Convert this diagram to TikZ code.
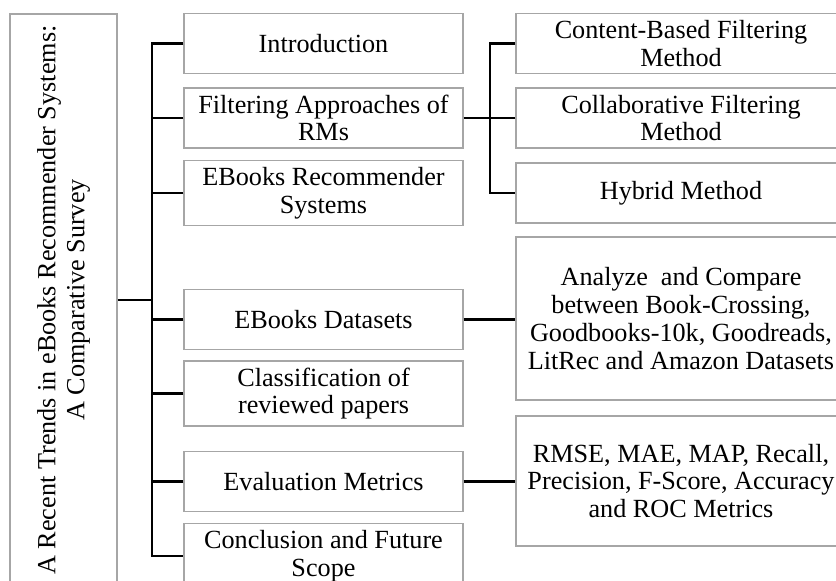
\documentclass[tikz,border=0pt]{standalone}
\usepackage{fontspec}
\setmainfont{Liberation Serif}
\newcommand{\topicBox}[5][]{
	\path (#2,#3) node[draw=black!35, line width=0.7pt, align=center, #1](#4){#5};
}
\newcommand{\edge}[3][]{
	\draw[link, #1] (#2) -- (#3);
}

\begin{document}
\begin{tikzpicture}[x=0.5pt, y=-0.5pt,
	font=\fontsize{13.1}{13.9}\selectfont,
	link/.style={line width=1.2pt},
	mid/.style={minimum width=139.5pt, minimum height=30pt},
	sub/.style={minimum width=165pt, minimum height=30pt}]
	\useasboundingbox (0,0) rectangle (836,581);
	\clip (0,0) rectangle (836,581);

	\topicBox[rotate=90, minimum width=286pt, minimum height=53.5pt, font=\fontsize{13.1}{14.5}\selectfont]{63.5}{300}{title}{A Recent Trends in eBooks Recommender Systems:\\A Comparative Survey};

	\topicBox[mid]{323.5}{43.5}{intro}{Introduction};
	\topicBox[mid]{323.5}{118}{filt}{Filtering Approaches of\\RMs};
	\topicBox[mid]{323.5}{193}{ebrs}{EBooks Recommender\\Systems};
	\topicBox[mid]{323.5}{319.5}{data}{EBooks Datasets};
	\topicBox[mid]{323.5}{393.5}{clas}{Classification of\\reviewed papers};
	\topicBox[mid]{323.5}{481.5}{eval}{Evaluation Metrics};
	\topicBox[mid]{323.5}{556}{concl}{Conclusion and Future\\Scope};

	\topicBox[sub]{681}{43.5}{cbf}{Content-Based Filtering\\Method};
	\topicBox[sub]{681}{118}{cof}{Collaborative Filtering\\Method};
	\topicBox[sub]{681}{193}{hyb}{Hybrid Method};
	\topicBox[sub, minimum height=81.5pt]{681}{318.5}{anl}{Analyze\ \ and Compare\\between Book-Crossing,\\Goodbooks-10k, Goodreads,\\LitRec and Amazon Datasets};
	\topicBox[sub, minimum height=65pt]{681}{481}{rmse}{RMSE, MAE, MAP, Recall,\\Precision, F-Score, Accuracy\\and ROC Metrics};

	\coordinate (trunk) at (152,0);
	\coordinate (fork) at (490,0);

	% main trunk
	\draw[link] (intro.west) -| (trunk |- concl.west) -- (concl.west);
	\edge{title.south}{title.south -| trunk};
	\edge{filt.west}{filt.west -| trunk};
	\edge{ebrs.west}{ebrs.west -| trunk};
	\edge{data.west}{data.west -| trunk};
	\edge{clas.west}{clas.west -| trunk};
	\edge{eval.west}{eval.west -| trunk};

	% filtering methods
	\draw[link] (cbf.west) -| (fork |- hyb.west) -- (hyb.west);
	\edge{filt.east}{filt.east -| fork};
	\edge{cof.west}{cof.west -| fork};

	\edge{data.east}{data.east -| anl.west};
	\edge{eval.east}{eval.east -| rmse.west};
\end{tikzpicture}
\end{document}
